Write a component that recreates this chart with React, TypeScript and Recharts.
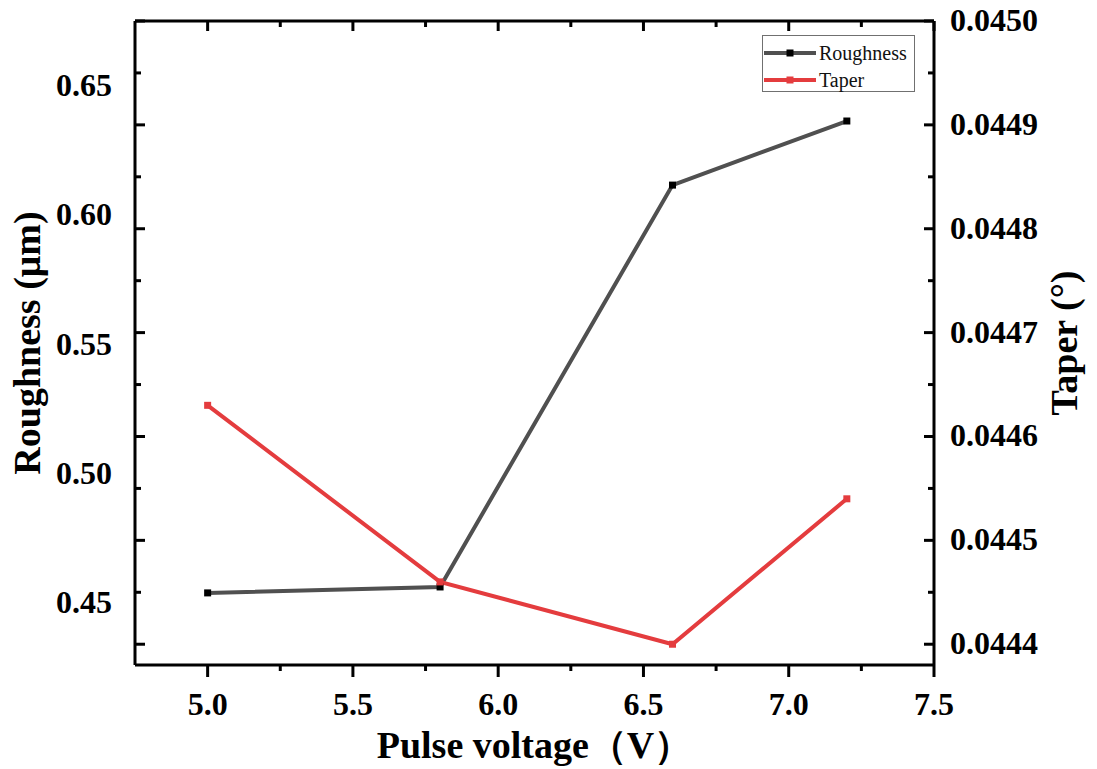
import React from 'react';
import { LineChart, Line, XAxis, YAxis, Legend, Label } from 'recharts';

const voltage = [5.0, 5.8, 6.6, 7.2];
const roughness = [0.4535, 0.4558, 0.6113, 0.6361];
const taper = [0.04463, 0.04446, 0.0444, 0.04454];

// axis ticks (major + minor)
const xTicks = [5.0, 5.25, 5.5, 5.75, 6.0, 6.25, 6.5, 6.75, 7.0, 7.25, 7.5];
const roughnessTicks = [0.45, 0.5, 0.55, 0.6, 0.65];
const taperTicks = [0.0444, 0.04445, 0.0445, 0.04455, 0.0446, 0.04465, 0.0447, 0.04475, 0.0448, 0.04485, 0.0449, 0.04495, 0.045];

const xDomain = [4.75, 7.5];
const roughnessDomain = [0.4256, 0.6748];
const taperDomain = [0.04438, 0.045];

const data = voltage.map((v, i) => ({ v, roughness: roughness[i], taper: taper[i] }));

const serif = '"Liberation Serif", "Times New Roman", serif';
const lineColors: Record<string, string> = { roughness: '#505050', taper: '#e43c3e' };
const markerColors: Record<string, string> = { roughness: '#000000', taper: '#e43c3e' };

const isMajorX = (v: number) => Math.abs(v * 2 - Math.round(v * 2)) < 1e-6;
const isMajorT = (v: number) => Math.abs(v * 1e4 - Math.round(v * 1e4)) < 1e-6;

const tickText = {
  fontFamily: serif,
  fontWeight: 'bold' as const,
  fontSize: 32,
  fill: '#000',
};

const BottomTick = (props: any) => {
  const { x, y, payload } = props;
  const major = isMajorX(payload.value);
  return (
    <g>
      <line x1={x} y1={y} x2={x} y2={y + (major ? 12 : 6)} stroke="#000" strokeWidth={3} />
      {major && (
        <text x={x} y={y + 50} textAnchor="middle" {...tickText}>
          {payload.value.toFixed(1)}
        </text>
      )}
    </g>
  );
};

const TopTick = (props: any) => {
  const { x, y, payload } = props;
  const major = isMajorX(payload.value);
  return <line x1={x} y1={y} x2={x} y2={y + (major ? 10 : 6)} stroke="#000" strokeWidth={3} />;
};

const RightTick = (props: any) => {
  const { x, y, payload } = props;
  const major = isMajorT(payload.value);
  return (
    <g>
      <line x1={x} y1={y} x2={x - (major ? 10 : 6)} y2={y} stroke="#000" strokeWidth={3} />
      {major && (
        <text x={x + 16} y={y + 10} textAnchor="start" {...tickText}>
          {payload.value.toFixed(4)}
        </text>
      )}
    </g>
  );
};

const LeftInnerTick = (props: any) => {
  const { x, y, payload } = props;
  const major = isMajorT(payload.value);
  return <line x1={x} y1={y} x2={x + (major ? 10 : 6)} y2={y} stroke="#000" strokeWidth={3} />;
};

const LeftLabelTick = (props: any) => {
  const { x, y, payload } = props;
  return (
    <text x={x - 23} y={y + 11} textAnchor="end" {...tickText}>
      {payload.value.toFixed(2)}
    </text>
  );
};

const renderLegend = (props: any) => {
  const { payload } = props;
  return (
    <div
      style={{
        border: '1px solid #707070',
        background: '#fff',
        width: 153,
        height: 57,
        paddingTop: 3,
        boxSizing: 'border-box',
      }}
    >
      {payload.map((entry: any) => (
        <div key={entry.value} style={{ display: 'flex', alignItems: 'center', height: 27 }}>
          <svg width={52} height={14} style={{ marginLeft: 1 }}>
            <line x1={0} y1={7} x2={52} y2={7} stroke={entry.color} strokeWidth={4} />
            <rect x={22.5} y={3.5} width={7} height={7} fill={markerColors[entry.dataKey] || entry.color} />
          </svg>
          <span style={{ fontFamily: serif, fontSize: 20, color: '#111', marginLeft: 3, lineHeight: '20px' }}>
            {entry.value}
          </span>
        </div>
      ))}
    </div>
  );
};

const squareDot = (fill: string) => (p: any) => (
  <rect key={`dot-${fill}-${p.index}`} x={p.cx - 3.5} y={p.cy - 3.5} width={7} height={7} fill={fill} />
);

const axisTitle = {
  fontFamily: serif,
  fontWeight: 'bold' as const,
  fontSize: 38,
  fill: '#000',
  textAnchor: 'middle' as const,
};

const App: React.FC = () => {
  return (
    <div style={{ position: 'absolute', left: 0, top: 0, background: '#fff' }}>
      <LineChart width={1097} height={769} data={data} margin={{ top: 21, right: 0, bottom: 0, left: 0 }}>
        <XAxis
          dataKey="v"
          type="number"
          domain={xDomain}
          allowDataOverflow
          ticks={xTicks}
          interval={0}
          height={104}
          tickSize={0}
          tickMargin={0}
          tickLine={false}
          axisLine={{ stroke: '#000', strokeWidth: 3 }}
          tick={<BottomTick />}
        >
          <Label value="Pulse voltage（V）" position="insideBottom" offset={11} style={axisTitle} />
        </XAxis>
        <XAxis
          xAxisId="top"
          dataKey="v"
          type="number"
          orientation="top"
          mirror
          domain={xDomain}
          allowDataOverflow
          ticks={xTicks}
          interval={0}
          tickSize={0}
          tickMargin={0}
          tickLine={false}
          axisLine={{ stroke: '#000', strokeWidth: 3 }}
          tick={<TopTick />}
        />
        <YAxis
          yAxisId="r"
          orientation="left"
          width={135}
          domain={roughnessDomain}
          allowDataOverflow
          ticks={roughnessTicks}
          interval={0}
          tickSize={0}
          tickMargin={0}
          tickLine={false}
          axisLine={{ stroke: '#000', strokeWidth: 3 }}
          tick={<LeftLabelTick />}
        >
          <Label value="Roughness (μm)" angle={-90} position="insideLeft" offset={27} style={axisTitle} />
        </YAxis>
        <YAxis
          yAxisId="tl"
          orientation="left"
          mirror
          domain={taperDomain}
          allowDataOverflow
          ticks={taperTicks}
          interval={0}
          tickSize={0}
          tickMargin={0}
          tickLine={false}
          axisLine={false}
          tick={<LeftInnerTick />}
        />
        <YAxis
          yAxisId="t"
          orientation="right"
          width={163}
          domain={taperDomain}
          allowDataOverflow
          ticks={taperTicks}
          interval={0}
          tickSize={0}
          tickMargin={0}
          tickLine={false}
          axisLine={{ stroke: '#000', strokeWidth: 3 }}
          tick={<RightTick />}
        >
          <Label value="Taper (°)" angle={-90} position="insideRight" offset={33} style={axisTitle} />
        </YAxis>
        <Legend
          layout="vertical"
          align="center"
          verticalAlign="middle"
          wrapperStyle={{ left: 762, top: 35, width: 153 }}
          content={renderLegend}
        />
        <Line
          yAxisId="r"
          dataKey="roughness"
          name="Roughness"
          type="linear"
          stroke={lineColors.roughness}
          strokeWidth={4}
          dot={squareDot(markerColors.roughness)}
          activeDot={false}
          isAnimationActive={false}
        />
        <Line
          yAxisId="t"
          dataKey="taper"
          name="Taper"
          type="linear"
          stroke={lineColors.taper}
          strokeWidth={4}
          dot={squareDot(markerColors.taper)}
          activeDot={false}
          isAnimationActive={false}
        />
      </LineChart>
    </div>
  );
};

export default App;
